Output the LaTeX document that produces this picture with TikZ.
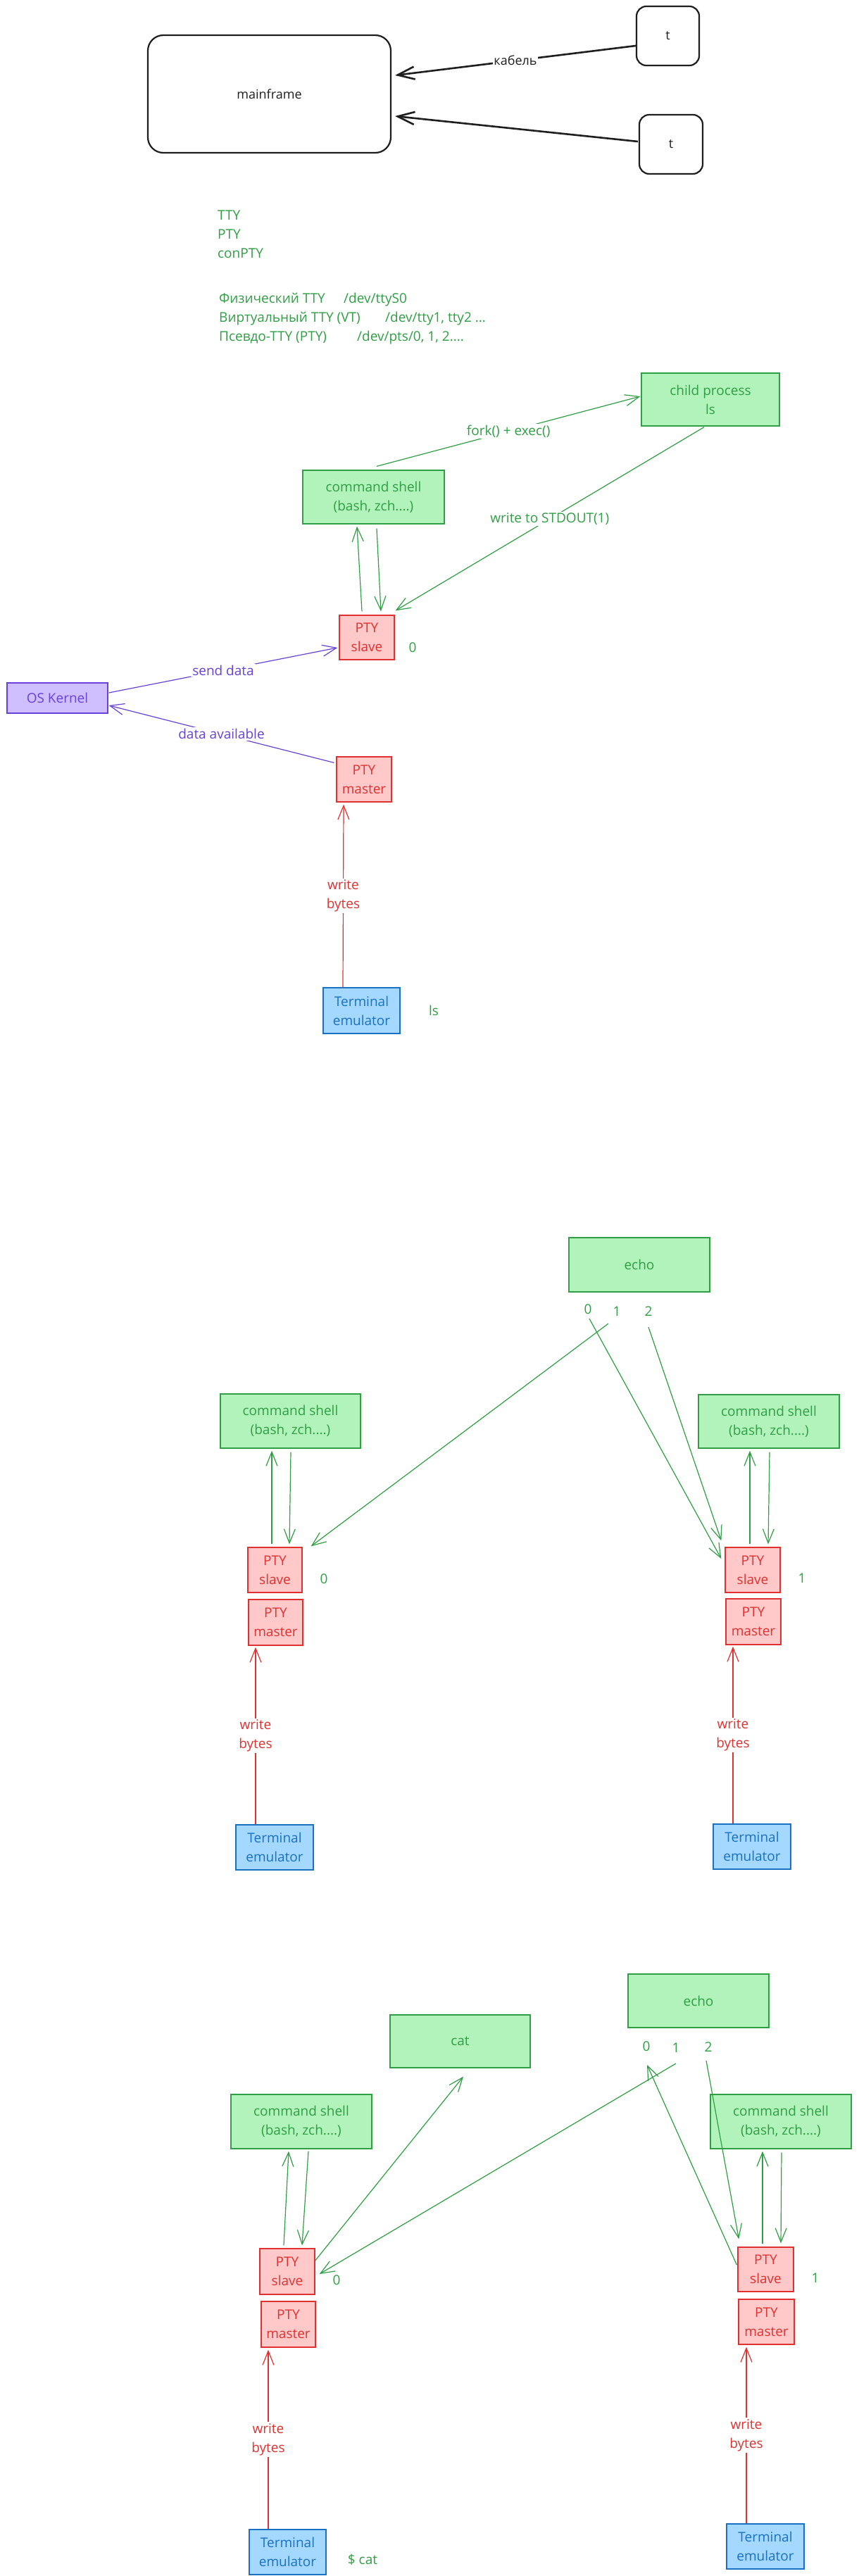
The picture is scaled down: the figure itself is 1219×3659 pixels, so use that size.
\documentclass[tikz,border=0pt]{standalone}
\usepackage{fontspec}
\setmainfont{Open Sans}
\usetikzlibrary{arrows.meta,positioning}

\definecolor{ink}{HTML}{1E1E1E}
\definecolor{grn}{HTML}{2F9E44}
\definecolor{grnfill}{HTML}{B2F2BB}
\definecolor{rd}{HTML}{E03131}
\definecolor{rdfill}{HTML}{FFC9C9}
\definecolor{blu}{HTML}{1971C2}
\definecolor{blufill}{HTML}{A5D8FF}
\definecolor{vio}{HTML}{6741D9}
\definecolor{viofill}{HTML}{D0BFFF}

\newcommand{\txt}{\fontsize{19}{27}\selectfont}

\begin{document}
\begin{tikzpicture}[
    x=1pt, y=-1pt,
    box/.style={line width=1.3pt, align=center, inner sep=0pt, font=\txt},
    proc/.style={box, draw=grn, fill=grnfill, text=grn},
    pty/.style={box, draw=rd, fill=rdfill, text=rd, minimum width=78, minimum height=64},
    emu/.style={box, draw=blu, fill=blufill, text=blu, minimum width=110, minimum height=64},
    kern/.style={box, draw=vio, fill=viofill, text=vio},
    hand/.style={draw=ink, text=ink, line width=2.2pt, inner sep=0pt, font=\fontsize{18}{22}\selectfont},
    flow/.style={-{Straight Barb[length=20pt,width=16pt]}, line width=1.2pt},
    cable/.style={-{Straight Barb[length=24pt,width=18pt]}, line width=2.6pt, draw=ink},
    lbl/.style={fill=white, inner sep=2pt, align=center, font=\txt},
    note/.style={text=grn, inner sep=0pt, align=left, font=\txt},
  ]
  \fill[white] (0,0) rectangle (1219,3659);

  % mainframe and terminals
  \node[hand, rounded corners=22pt, minimum width=345, minimum height=167] (mainframe) at (382.5,133.5) {mainframe};
  \node[hand, rounded corners=14pt, minimum width=89, minimum height=84] (tA) at (948.5,51) {t};
  \node[hand, rounded corners=14pt, minimum width=90, minimum height=84] (tB) at (953,205) {t};
  \draw[cable] ([shift={(0,14)}]tA.west) -- node[fill=white, inner sep=1pt, text=ink, font=\fontsize{18}{22}\selectfont] {кабель} ([shift={(5,-26.5)}]mainframe.east);
  \draw[cable] ([shift={(-1,-4)}]tB.west) -- ([shift={(5,31.5)}]mainframe.east);

  % kinds of tty
  \node[note, anchor=north west] (ttykinds) at (309,299) {TTY\\PTY\\conPTY};
  \node[note, anchor=north west] (ttydevs) at (311,416) {\makebox[177pt][l]{Физический TTY}/dev/ttyS0\\\makebox[236pt][l]{Виртуальный TTY (VT)}/dev/tty1, tty2 ...\\\makebox[196pt][l]{Псевдо-TTY (PTY)}/dev/pts/0, 1, 2....};

  % ls through the pty
  \node[proc, minimum width=196, minimum height=75] (child) at (1009,567.5) {child process\\ls};
  \node[proc, minimum width=201, minimum height=76] (shell) at (530.5,706) {command shell\\(bash, zch....)};
  \node[pty, minimum height=63] (slave) at (521,905.5) {PTY\\slave};
  \node[kern, minimum width=143, minimum height=43] (kernel) at (81.5,991.5) {OS Kernel};
  \node[pty] (master) at (517,1107) {PTY\\master};
  \node[emu, minimum width=109, minimum height=65] (term) at (513.5,1435.5) {Terminal\\emulator};
  \node[note] (slavefd) at (586,920) {0};
  \node[note] (cmdls) at (616,1435) {ls};

  \draw[flow, grn] ([shift={(4.5,-5)}]shell.north) -- node[lbl] {fork() + exec()} ([shift={(-1,-4.5)}]child.west);
  \draw[flow, grn] ([shift={(-9,1)}]child.south) -- node[lbl] {write to STDOUT(1)} ([shift={(1,-6)}]slave.north east);
  \draw[flow, grn] ([shift={(-7,-5)}]slave.north) -- ([shift={(-23.5,3)}]shell.south);
  \draw[flow, grn] ([shift={(4.5,6)}]shell.south) -- ([shift={(20,-5)}]slave.north);
  \draw[flow, vio] ([shift={(1,-7.5)}]kernel.east) -- node[lbl] {send data} ([shift={(-2,14.5)}]slave.west);
  \draw[flow, vio] ([shift={(-3,9)}]master.north west) -- node[lbl] {data available} ([shift={(1,10.5)}]kernel.east);
  \draw[flow, rd] ([shift={(-26.5,0)}]term.north) -- node[lbl] {write\\bytes} ([shift={(-29,3)}]master.south);

  % echo writes to two ptys
  \node[proc, minimum width=200, minimum height=77] (echoA) at (908,1796.5) {echo};
  \node[note] (efd0) at (835,1860) {0};
  \node[note] (efd1) at (876,1863) {1};
  \node[note] (efd2) at (921,1863) {2};

  \node[proc, minimum width=199, minimum height=77] (eshellL) at (412.5,2018.5) {command shell\\(bash, zch....)};
  \node[pty, minimum width=77] (eslaveL) at (390.5,2230) {PTY\\slave};
  \node[pty, minimum width=77, minimum height=65] (emasterL) at (391.5,2304.5) {PTY\\master};
  \node[emu] (etermL) at (390,2624) {Terminal\\emulator};
  \node[note] (eslaveLfd) at (460,2243) {0};

  \node[proc, minimum width=200, minimum height=76] (eshellR) at (1092,2019) {command shell\\(bash, zch....)};
  \node[pty] (eslaveR) at (1069,2230) {PTY\\slave};
  \node[pty, minimum height=65] (emasterR) at (1070,2303.5) {PTY\\master};
  \node[emu] (etermR) at (1068,2623) {Terminal\\emulator};
  \node[note] (eslaveRfd) at (1139,2242) {1};

  \draw[flow, grn] ([shift={(-12,17)}]efd1.center) -- ([shift={(12,-1)}]eslaveL.north east);
  \draw[flow, grn] ([shift={(2,13)}]efd0.center) -- ([shift={(-5,-16)}]eslaveR.west);
  \draw[flow, grn] ([shift={(0,22)}]efd2.center) -- ([shift={(-5,-9)}]eslaveR.north west);
  \draw[flow, grn] ([shift={(-4.5,-4)}]eslaveL.north) -- ([shift={(-26.5,3)}]eshellL.south);
  \draw[flow, grn] ([shift={(0.5,5)}]eshellL.south) -- ([shift={(20.5,-4)}]eslaveL.north);
  \draw[flow, grn] ([shift={(-4,-4)}]eslaveR.north) -- ([shift={(-27,3)}]eshellR.south);
  \draw[flow, grn] ([shift={(1,5)}]eshellR.south) -- ([shift={(22,-4)}]eslaveR.north);
  \draw[flow, rd] ([shift={(-27,0)}]etermL.north) -- node[lbl] {write\\bytes} ([shift={(-28.5,2)}]emasterL.south);
  \draw[flow, rd] ([shift={(-27,0)}]etermR.north) -- node[lbl] {write\\bytes} ([shift={(-29,2)}]emasterR.south);

  % cat reads, echo writes
  \node[proc, minimum width=199, minimum height=75] (catbox) at (653.5,2899.5) {cat};
  \node[proc, minimum width=200, minimum height=76] (echoB) at (992,2842) {echo};
  \node[note] (cfd0) at (918,2907) {0};
  \node[note] (cfd1) at (960,2909) {1};
  \node[note] (cfd2) at (1006,2908) {2};

  \node[proc, minimum width=200, minimum height=77] (cshellL) at (428,3013.5) {command shell\\(bash, zch....)};
  \node[pty, minimum height=65] (cslaveL) at (408,3226.5) {PTY\\slave};
  \node[pty, minimum width=77, minimum height=65] (cmasterL) at (409.5,3301.5) {PTY\\master};
  \node[emu, minimum width=109] (ctermL) at (408.5,3625) {Terminal\\emulator};
  \node[note] (cslaveLfd) at (478,3239) {0};
  \node[note] (ccmdcat) at (515,3636) {\$ cat};

  \node[proc, minimum width=200, minimum height=77] (cshellR) at (1109,3013.5) {command shell\\(bash, zch....)};
  \node[pty, minimum width=79, minimum height=63] (cslaveR) at (1087.5,3223.5) {PTY\\slave};
  \node[pty, minimum width=79] (cmasterR) at (1088.5,3298) {PTY\\master};
  \node[emu] (ctermR) at (1087,3617) {Terminal\\emulator};
  \node[note] (cslaveRfd) at (1158,3236) {1};

  \draw[flow, grn] ([shift={(-5,-4)}]cslaveL.north) -- ([shift={(-18,3)}]cshellL.south);
  \draw[flow, grn] ([shift={(10,3)}]cshellL.south) -- ([shift={(21,-4)}]cslaveL.north);
  \draw[flow, grn] ([shift={(0,-15.5)}]cslaveL.east) -- ([shift={(4.5,12)}]catbox.south);
  \draw[flow, grn] ([shift={(0,22)}]cfd1.center) -- ([shift={(6,3.5)}]cslaveL.east);
  \draw[flow, grn] ([shift={(-1,-6.5)}]cslaveR.west) -- ([shift={(1,26)}]cfd0.center);
  \draw[flow, grn] ([shift={(-3,19)}]cfd2.center) -- ([shift={(2,-11)}]cslaveR.north west);
  \draw[flow, grn] ([shift={(-4.5,-4)}]cslaveR.north) -- ([shift={(-26,3)}]cshellR.south);
  \draw[flow, grn] ([shift={(1,5)}]cshellR.south) -- ([shift={(21.5,-5)}]cslaveR.north);
  \draw[flow, rd] ([shift={(-27.5,0)}]ctermL.north) -- node[lbl] {write\\bytes} ([shift={(-28.5,3)}]cmasterL.south);
  \draw[flow, rd] ([shift={(-27,0)}]ctermR.north) -- node[lbl] {write\\bytes} ([shift={(-28.5,3)}]cmasterR.south);
\end{tikzpicture}
\end{document}
